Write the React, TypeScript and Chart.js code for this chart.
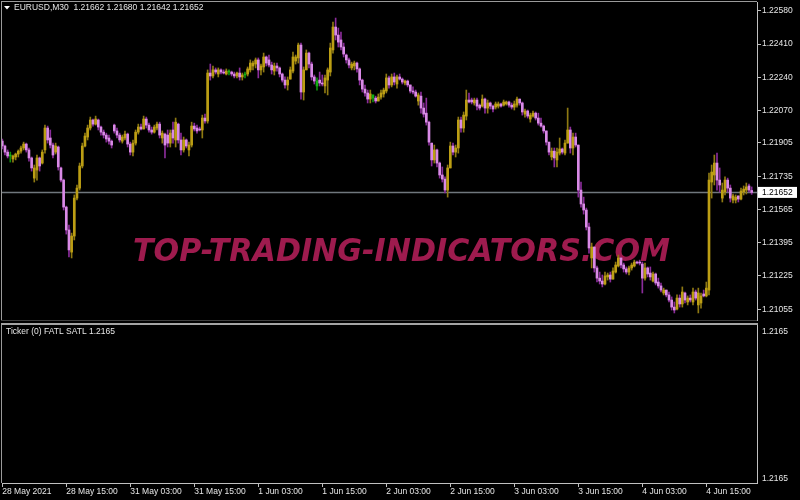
import React, { useEffect, useRef } from 'react';
import { Chart, registerables } from 'chart.js';

Chart.register(...registerables);

// ---------- data ----------
const SYMBOL = 'EURUSD,M30';
const BASE_PRICE = 1.21; // price = BASE_PRICE + points / 100000

const openPts = [
  914, 889, 858, 838, 823, 833, 848, 863, 879, 899,
  869, 828, 725, 766, 828, 802, 869, 981, 930, 894,
  858, 884, 777, 715, 577, 460, 347, 429, 623, 674,
  787, 889, 935, 981, 1022, 1001, 1022, 986, 960, 945,
  930, 914, 996, 966, 945, 914, 930, 950, 899, 858,
  904, 960, 986, 976, 1027, 996, 971, 960, 981, 1001,
  930, 950, 945, 904, 971, 920, 1001, 920, 869, 920,
  869, 894, 991, 981, 976, 971, 1032, 1017, 1262, 1247,
  1278, 1257, 1278, 1267, 1257, 1272, 1267, 1257, 1247, 1262,
  1242, 1252, 1257, 1278, 1298, 1308, 1329, 1278, 1293, 1344,
  1329, 1303, 1272, 1298, 1288, 1257, 1226, 1201, 1231, 1272,
  1323, 1339, 1405, 1165, 1278, 1364, 1308, 1242, 1221, 1226,
  1211, 1196, 1226, 1267, 1380, 1497, 1456, 1431, 1395, 1354,
  1329, 1288, 1298, 1313, 1283, 1226, 1180, 1160, 1129, 1150,
  1134, 1119, 1139, 1155, 1170, 1237, 1201, 1242, 1206, 1242,
  1231, 1211, 1221, 1201, 1170, 1165, 1119, 1144, 1083, 1057,
  1011, 904, 818, 869, 802, 741, 720, 664, 777, 889,
  858, 879, 1022, 981, 1042, 1124, 1124, 1109, 1124, 1098,
  1093, 1129, 1083, 1109, 1093, 1088, 1093, 1104, 1098, 1104,
  1114, 1098, 1088, 1098, 1129, 1109, 1052, 1068, 1027, 1042,
  1057, 1032, 1006, 991, 966, 909, 833, 863, 818, 853,
  874, 853, 904, 971, 879, 935, 894, 664, 593, 562,
  475, 317, 373, 266, 214, 199, 184, 220, 230, 209,
  245, 276, 317, 281, 261, 245, 266, 276, 296, 296,
  286, 214, 266, 240, 199, 235, 194, 174, 138, 153,
  128, 102, 66, 56, 112, 82, 138, 92, 112, 92,
  143, 77, 87, 133, 123, 153, 705, 741, 802, 715,
  623, 654, 715, 674, 613, 613, 634, 618, 654, 664,
  685, 662,
];
const highPts = [
  925, 894, 869, 858, 843, 853, 869, 889, 909, 904,
  879, 833, 792, 843, 833, 869, 996, 991, 971, 904,
  904, 889, 782, 720, 582, 485, 444, 639, 690, 802,
  904, 955, 996, 1037, 1027, 1042, 1027, 991, 971, 955,
  945, 920, 1001, 981, 955, 945, 966, 955, 909, 920,
  971, 1001, 1001, 1042, 1037, 1006, 986, 996, 1011, 1011,
  966, 955, 971, 971, 1011, 1032, 1006, 955, 935, 925,
  909, 1011, 1006, 996, 986, 1047, 1052, 1278, 1308, 1298,
  1288, 1288, 1283, 1278, 1283, 1278, 1272, 1267, 1267, 1288,
  1262, 1267, 1293, 1329, 1323, 1339, 1339, 1308, 1364, 1349,
  1354, 1318, 1313, 1313, 1293, 1262, 1242, 1242, 1293, 1369,
  1354, 1415, 1415, 1293, 1380, 1369, 1318, 1252, 1237, 1267,
  1252, 1252, 1288, 1415, 1523, 1543, 1492, 1471, 1415, 1359,
  1339, 1318, 1323, 1318, 1288, 1231, 1201, 1175, 1175, 1150,
  1144, 1155, 1175, 1185, 1257, 1247, 1257, 1262, 1252, 1257,
  1237, 1226, 1226, 1201, 1191, 1175, 1160, 1165, 1109, 1134,
  1017, 904, 894, 874, 807, 782, 731, 792, 909, 904,
  894, 1037, 1037, 1063, 1175, 1160, 1134, 1134, 1134, 1104,
  1150, 1134, 1124, 1114, 1098, 1114, 1114, 1109, 1124, 1119,
  1119, 1109, 1119, 1139, 1129, 1114, 1078, 1073, 1057, 1068,
  1063, 1057, 1032, 996, 966, 909, 879, 879, 879, 930,
  879, 920, 1083, 986, 955, 955, 894, 705, 628, 572,
  495, 393, 373, 276, 245, 230, 245, 240, 245, 266,
  296, 332, 317, 291, 271, 276, 291, 306, 301, 306,
  296, 291, 271, 271, 245, 240, 214, 189, 163, 153,
  143, 118, 92, 128, 128, 169, 143, 123, 128, 163,
  153, 163, 138, 153, 194, 751, 792, 843, 853, 777,
  700, 731, 725, 690, 644, 639, 634, 674, 685, 700,
  695, 680,
];
const lowPts = [
  874, 843, 828, 807, 807, 818, 833, 853, 869, 858,
  812, 761, 705, 715, 761, 797, 853, 904, 879, 828,
  848, 766, 705, 562, 439, 322, 317, 409, 613, 664,
  777, 884, 920, 971, 991, 996, 971, 945, 930, 909,
  899, 879, 955, 930, 909, 904, 920, 884, 843, 838,
  894, 950, 971, 976, 981, 960, 950, 955, 971, 930,
  904, 828, 884, 884, 904, 884, 904, 843, 858, 879,
  838, 884, 966, 955, 966, 930, 1006, 1006, 1226, 1237,
  1257, 1242, 1257, 1257, 1252, 1252, 1247, 1237, 1237, 1226,
  1226, 1237, 1247, 1267, 1278, 1288, 1237, 1252, 1267, 1298,
  1293, 1257, 1252, 1272, 1242, 1216, 1185, 1175, 1231, 1262,
  1308, 1313, 1129, 1124, 1278, 1288, 1226, 1206, 1175, 1196,
  1196, 1160, 1150, 1247, 1364, 1431, 1395, 1380, 1344, 1313,
  1288, 1278, 1278, 1267, 1201, 1165, 1144, 1109, 1109, 1114,
  1109, 1119, 1129, 1139, 1160, 1185, 1191, 1201, 1185, 1226,
  1206, 1201, 1191, 1160, 1155, 1139, 1098, 1057, 1037, 996,
  894, 787, 802, 782, 725, 705, 649, 628, 777, 843,
  833, 853, 960, 960, 1022, 1109, 1104, 1098, 1073, 1073,
  1088, 1057, 1057, 1078, 1063, 1078, 1083, 1088, 1093, 1098,
  1088, 1078, 1073, 1088, 1098, 1047, 1037, 1032, 1011, 1037,
  1022, 996, 986, 955, 894, 843, 818, 782, 782, 843,
  848, 843, 904, 853, 843, 884, 628, 577, 541, 460,
  342, 266, 245, 194, 184, 169, 179, 204, 194, 209,
  240, 271, 266, 245, 235, 230, 255, 271, 286, 281,
  138, 204, 220, 204, 194, 179, 163, 143, 128, 118,
  92, 51, 36, 51, 66, 66, 87, 77, 92, 77,
  102, 36, 61, 118, 118, 128, 623, 690, 664, 654,
  603, 639, 654, 603, 598, 598, 603, 613, 639, 644,
  654, 642,
];
const closePts = [
  889, 858, 838, 843, 838, 848, 863, 879, 899, 869,
  828, 777, 777, 828, 787, 858, 981, 920, 894, 843,
  889, 782, 715, 577, 460, 358, 429, 623, 674, 787,
  889, 940, 981, 1022, 1001, 1027, 986, 960, 945, 925,
  914, 894, 966, 945, 920, 935, 950, 899, 858, 904,
  960, 986, 976, 1027, 996, 971, 960, 986, 1001, 945,
  955, 894, 904, 955, 930, 1011, 920, 869, 920, 889,
  894, 991, 976, 966, 971, 1032, 1017, 1262, 1247, 1278,
  1267, 1278, 1267, 1262, 1272, 1267, 1257, 1247, 1262, 1242,
  1252, 1257, 1283, 1313, 1313, 1329, 1278, 1298, 1344, 1313,
  1303, 1278, 1298, 1288, 1257, 1226, 1201, 1226, 1278, 1344,
  1344, 1405, 1165, 1278, 1364, 1308, 1242, 1221, 1196, 1211,
  1206, 1237, 1278, 1390, 1497, 1456, 1420, 1395, 1359, 1329,
  1303, 1308, 1313, 1283, 1226, 1180, 1160, 1129, 1155, 1134,
  1119, 1139, 1160, 1175, 1237, 1201, 1242, 1216, 1242, 1231,
  1216, 1221, 1201, 1170, 1165, 1144, 1150, 1083, 1052, 1011,
  909, 818, 869, 802, 741, 720, 664, 777, 889, 858,
  879, 1022, 981, 1047, 1124, 1114, 1114, 1124, 1093, 1083,
  1129, 1083, 1109, 1093, 1078, 1104, 1104, 1093, 1114, 1114,
  1098, 1088, 1104, 1129, 1109, 1063, 1068, 1042, 1047, 1057,
  1032, 1006, 991, 966, 909, 858, 863, 828, 858, 874,
  858, 904, 971, 879, 935, 894, 664, 593, 562, 475,
  368, 373, 266, 214, 199, 184, 225, 230, 209, 250,
  281, 317, 281, 261, 245, 266, 281, 296, 291, 291,
  214, 266, 235, 220, 235, 189, 174, 153, 153, 128,
  102, 66, 51, 112, 82, 143, 102, 112, 102, 143,
  112, 138, 123, 123, 163, 715, 756, 802, 715, 690,
  664, 715, 674, 623, 634, 628, 618, 659, 669, 680,
  664, 652,
];
const greenBars = [3, 85, 91, 118, 139];

const priceTicks = [1.2258, 1.2241, 1.2224, 1.2207, 1.21905, 1.21735, 1.21565, 1.21395, 1.21225, 1.21055];
const timeLabels = [
  '28 May 2021', '28 May 15:00', '31 May 03:00', '31 May 15:00', '1 Jun 03:00', '1 Jun 15:00',
  '2 Jun 03:00', '2 Jun 15:00', '3 Jun 03:00', '3 Jun 15:00', '4 Jun 03:00', '4 Jun 15:00',
];
const timeLabelBars = [0, 24, 48, 72, 96, 120, 144, 168, 192, 216, 240, 264];
const subTitle = 'Ticker (0) FATL SATL 1.2165';
const subRange = [1.21645, 1.21655];
const subTicks = [1.216546, 1.2164525];
const watermark = 'TOP-TRADING-INDICATORS.COM';

// ---------- helpers / styles ----------
const toPrice = (p: number) => BASE_PRICE + p / 100000;
const FONT = '"Liberation Sans", Arial, sans-serif';
const TXT = '#E6E6E6';
const X_MIN = -0.11;
const X_MAX = 283;

const UP_BODY = '#BC9E14';
const UP_WICK = '#8E7912';
const DN_BODY = '#D98AE6';
const DN_WICK = '#8A2C9A';
const GR_BODY = '#14B014';
const GR_WICK = '#0E8E0E';

const noPadV = (s: any, w: number) => {
  s.width = w;
  s.paddingTop = 0;
  s.paddingBottom = 0;
};

export default function App() {
  const mainRef = useRef<HTMLCanvasElement>(null);
  const subRef = useRef<HTMLCanvasElement>(null);

  useEffect(() => {
    document.body.style.margin = '0';
    document.body.style.background = '#000';
    const n = closePts.length;
    const kind = closePts.map((c, i) =>
      greenBars.includes(i) ? 'g' : c >= openPts[i] ? 'u' : 'd'
    );
    const bodyColors = kind.map(k => (k === 'g' ? GR_BODY : k === 'u' ? UP_BODY : DN_BODY));
    const wickColors = kind.map(k => (k === 'g' ? GR_WICK : k === 'u' ? UP_WICK : DN_WICK));
    const wickData = closePts.map((_, i) => ({ x: i, y: [toPrice(lowPts[i]), toPrice(highPts[i])] }));
    const bodyData = closePts.map((c, i) => ({ x: i, y: [toPrice(openPts[i]), toPrice(c)] }));
    const last = n - 1;
    const lastClose = toPrice(closePts[last]);
    const header =
      SYMBOL + '  ' +
      [openPts[last], highPts[last], lowPts[last], closePts[last]].map(p => toPrice(p).toFixed(5)).join(' ');

    const mainPlugin = {
      id: 'mt4main',
      beforeDraw(chart: any) {
        const ctx = chart.ctx;
        ctx.save();
        ctx.fillStyle = '#000';
        ctx.fillRect(0, 0, chart.width, chart.height);
        ctx.restore();
      },
      beforeDatasetsDraw(chart: any) {
        const ctx = chart.ctx;
        const area = chart.chartArea;
        // watermark
        ctx.save();
        ctx.font = 'italic bold 32px "DejaVu Sans", sans-serif';
        const w = ctx.measureText(watermark).width;
        ctx.translate(133, 261);
        ctx.scale(537 / w, 1);
        ctx.fillStyle = '#9E1B4E';
        ctx.textBaseline = 'alphabetic';
        ctx.fillText(watermark, 0, 0);
        ctx.restore();
        // current price line
        const y = chart.scales.y.getPixelForValue(lastClose);
        ctx.save();
        ctx.strokeStyle = '#70777D';
        ctx.lineWidth = 1.5;
        ctx.beginPath();
        ctx.moveTo(area.left, y);
        ctx.lineTo(area.right, y);
        ctx.stroke();
        ctx.restore();
      },
      afterDraw(chart: any) {
        const ctx = chart.ctx;
        const area = chart.chartArea;
        ctx.save();
        // frame
        ctx.strokeStyle = '#9A9A9A';
        ctx.lineWidth = 1;
        ctx.beginPath();
        ctx.moveTo(area.left - 1, 1.5);
        ctx.lineTo(area.right, 1.5);
        ctx.moveTo(1.5, 1);
        ctx.lineTo(1.5, area.bottom);
        ctx.stroke();
        ctx.strokeStyle = '#3E3E3E';
        ctx.beginPath();
        ctx.moveTo(1, area.bottom + 0.5);
        ctx.lineTo(area.right, area.bottom + 0.5);
        ctx.stroke();
        // header
        ctx.fillStyle = '#FFFFFF';
        ctx.beginPath();
        ctx.moveTo(4, 6);
        ctx.lineTo(10, 6);
        ctx.lineTo(7, 9.5);
        ctx.closePath();
        ctx.fill();
        ctx.font = '8.5px ' + FONT;
        ctx.fillStyle = TXT;
        ctx.textBaseline = 'middle';
        ctx.textAlign = 'left';
        ctx.fillText(header, 14, 8);
        // price label
        const y = chart.scales.y.getPixelForValue(lastClose);
        ctx.fillStyle = '#FFFFFF';
        ctx.fillRect(area.right + 1, y - 5.5, 39, 11);
        ctx.fillStyle = '#000000';
        ctx.fillText(lastClose.toFixed(5), area.right + 5, y + 0.5);
        ctx.restore();
      },
    };

    const main = new Chart(mainRef.current as HTMLCanvasElement, {
      type: 'bar',
      data: {
        datasets: [
          {
            label: 'body',
            data: bodyData as any,
            backgroundColor: bodyColors,
            barThickness: 2,
            minBarLength: 1,
            grouped: false,
            borderWidth: 0,
            order: 0,
          } as any,
          {
            label: 'wick',
            data: wickData as any,
            backgroundColor: wickColors,
            barThickness: 1,
            grouped: false,
            borderWidth: 0,
            order: 1,
          } as any,
        ],
      },
      options: {
        responsive: false,
        animation: false,
        devicePixelRatio: 1,
        events: [],
        layout: { padding: { top: 2, left: 2, bottom: 2, right: 0 } },
        plugins: { legend: { display: false }, tooltip: { enabled: false } },
        scales: {
          x: {
            type: 'linear',
            display: false,
            min: X_MIN,
            max: X_MAX,
            offset: false,
            bounds: 'data',
          },
          y: {
            type: 'linear',
            position: 'right',
            min: BASE_PRICE,
            max: 1.22625,
            bounds: 'data',
            afterFit: (s: any) => noPadV(s, 43),
            afterBuildTicks: (s: any) => { s.ticks = priceTicks.map(v => ({ value: v })); },
            ticks: {
              color: TXT,
              font: { family: FONT, size: 8.5 },
              padding: 1,
              callback: (v: any) => Number(v).toFixed(5),
            },
            grid: { drawOnChartArea: false, drawTicks: true, tickLength: 4, color: '#C0C0C0' },
            border: { display: true, color: '#C0C0C0' },
          },
        },
      } as any,
      plugins: [mainPlugin],
    });

    const subPlugin = {
      id: 'mt4sub',
      beforeDraw(chart: any) {
        const ctx = chart.ctx;
        ctx.save();
        ctx.fillStyle = '#000';
        ctx.fillRect(0, 0, chart.width, chart.height);
        ctx.restore();
      },
      afterDraw(chart: any) {
        const ctx = chart.ctx;
        const area = chart.chartArea;
        ctx.save();
        ctx.fillStyle = '#A4A4A4';
        ctx.fillRect(1, 1, area.right, 2);
        ctx.strokeStyle = '#9A9A9A';
        ctx.lineWidth = 1;
        ctx.beginPath();
        ctx.moveTo(1.5, area.top);
        ctx.lineTo(1.5, area.bottom);
        ctx.stroke();
        ctx.font = '8.5px ' + FONT;
        ctx.fillStyle = TXT;
        ctx.textBaseline = 'middle';
        ctx.textAlign = 'left';
        ctx.fillText(subTitle, 6, 10);
        ctx.restore();
      },
    };

    const sub = new Chart(subRef.current as HTMLCanvasElement, {
      type: 'line',
      data: { datasets: [] },
      options: {
        responsive: false,
        animation: false,
        devicePixelRatio: 1,
        events: [],
        layout: { padding: { top: 3, left: 2, bottom: 0, right: 0 } },
        plugins: { legend: { display: false }, tooltip: { enabled: false } },
        scales: {
          x: {
            type: 'linear',
            min: X_MIN,
            max: X_MAX,
            offset: false,
            bounds: 'data',
            afterFit: (s: any) => {
              s.height = 17;
              s.paddingLeft = 0;
              s.paddingRight = 0;
            },
            afterBuildTicks: (s: any) => { s.ticks = timeLabelBars.map(v => ({ value: v })); },
            ticks: {
              color: TXT,
              font: { family: FONT, size: 8.5 },
              padding: 0,
              align: 'start',
              autoSkip: false,
              maxRotation: 0,
              minRotation: 0,
              callback: (_v: any, i: number) => timeLabels[i],
            },
            grid: { drawOnChartArea: false, drawTicks: true, tickLength: 4, color: '#C0C0C0' },
            border: { display: true, color: '#C0C0C0' },
          },
          y: {
            type: 'linear',
            position: 'right',
            min: subRange[0],
            max: subRange[1],
            bounds: 'data',
            afterFit: (s: any) => noPadV(s, 43),
            afterBuildTicks: (s: any) => { s.ticks = subTicks.map(v => ({ value: v })); },
            ticks: {
              color: TXT,
              font: { family: FONT, size: 8.5 },
              padding: 1,
              callback: (v: any) => Number(v).toFixed(4),
            },
            grid: { drawOnChartArea: false, drawTicks: true, tickLength: 4, color: 'rgba(0,0,0,0)' },
            border: { display: true, color: '#C0C0C0' },
          },
        },
      } as any,
      plugins: [subPlugin],
    });

    return () => {
      main.destroy();
      sub.destroy();
    };
  }, []);

  return (
    <div style={{ position: 'relative', width: 800, height: 500, background: '#000', overflow: 'hidden' }}>
      <canvas
        ref={mainRef}
        width={800}
        height={322}
        style={{ position: 'absolute', left: 0, top: 0, width: 800, height: 322 }}
      />
      <canvas
        ref={subRef}
        width={800}
        height={178}
        style={{ position: 'absolute', left: 0, top: 322, width: 800, height: 178 }}
      />
    </div>
  );
}
